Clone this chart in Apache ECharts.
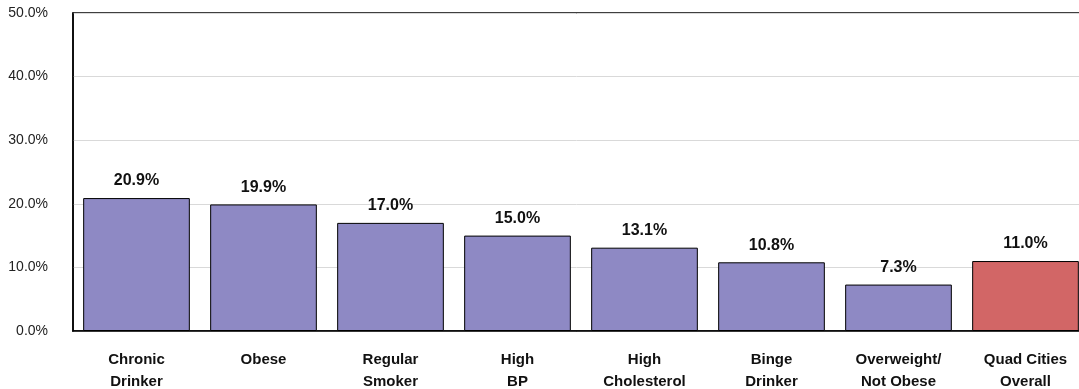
<!DOCTYPE html>
<html>
<head>
<meta charset="utf-8">
<script src="https://cdn.jsdelivr.net/npm/echarts@6/dist/echarts.min.js"></script>
<style>
  html, body { margin: 0; padding: 0; background: #fff; }
  #main { width: 1079px; height: 389px; }
</style>
</head>
<body>
<div id="main"></div>
<script>
// data
var categories = ['Chronic\nDrinker', 'Obese', 'Regular\nSmoker', 'High\nBP',
  'High\nCholesterol', 'Binge\nDrinker', 'Overweight/\nNot Obese', 'Quad Cities\nOverall'];
var values = [20.9, 19.9, 17.0, 15.0, 13.1, 10.8, 7.3, 11.0];
var yTicks = [0, 10, 20, 30, 40, 50];

var purple = '#8e89c4';
var red = '#d26666';

var barData = values.map(function (v, i) {
  return {
    value: v,
    itemStyle: { color: i === values.length - 1 ? red : purple }
  };
});

var option = {
  animation: false,
  textStyle: { fontFamily: '"Liberation Sans", Arial, sans-serif' },
  grid: {
    left: 73, top: 13, width: 1016, height: 318,
    outerBoundsMode: 'none',
    containLabel: false,
    show: true,
    borderColor: '#000',
    borderWidth: 1.5,
    backgroundColor: 'transparent'
  },
  xAxis: {
    type: 'category',
    data: categories,
    axisTick: { show: false },
    axisLine: { lineStyle: { color: '#000', width: 1.5 } },
    axisLabel: {
      color: '#111',
      fontWeight: 'bold',
      fontSize: 15,
      lineHeight: 22,
      margin: 18,
      interval: 0
    }
  },
  yAxis: {
    type: 'value',
    min: yTicks[0],
    max: yTicks[yTicks.length - 1],
    interval: 10,
    axisLine: { show: true, lineStyle: { color: '#000', width: 1.5 } },
    axisTick: { show: false },
    splitLine: { lineStyle: { color: '#d9d9d9', width: 1 } },
    axisLabel: {
      color: '#222',
      fontSize: 14,
      margin: 25,
      formatter: function (v) { return v.toFixed(1) + '%'; }
    }
  },
  series: [{
    type: 'bar',
    data: barData,
    barCategoryGap: '16%',
    itemStyle: { borderColor: '#000', borderWidth: 1 },
    label: {
      show: true,
      position: 'top',
      distance: 9,
      color: '#111',
      fontWeight: 'bold',
      fontSize: 16,
      formatter: function (p) { return p.value.toFixed(1) + '%'; }
    }
  }]
};

var chart = echarts.init(document.getElementById('main'));
chart.setOption(option);
</script>
</body>
</html>
